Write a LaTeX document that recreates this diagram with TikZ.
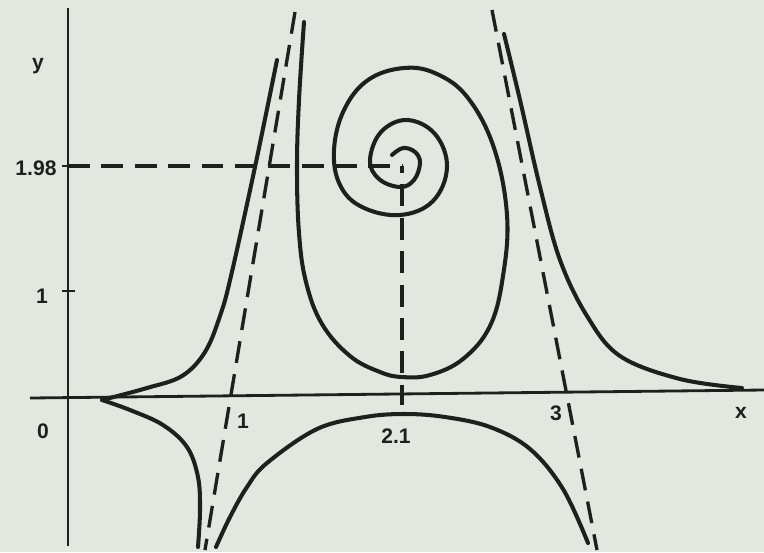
\documentclass[tikz,border=0pt]{standalone}
\usepackage{fontspec}
\setmainfont{Liberation Sans}
\begin{document}
\begin{tikzpicture}[x=0.02cm,y=-0.02cm,
  curve/.style={line width=2.3pt, draw=inkc, line cap=round, line join=round},
  axis/.style={line width=1.6pt, draw=inkc},
  guide/.style={line width=1.9pt, draw=inkc, dash pattern=on 12.5pt off 6.5pt},
  lbl/.style={text=inkc, font=\fontsize{12}{14}\selectfont\bfseries, inner sep=0pt}]
\definecolor{paper}{RGB}{226,231,224}
\definecolor{inkc}{RGB}{30,32,30}
\fill[paper] (0,0) rectangle (764,552);
\useasboundingbox (0,0) rectangle (764,552);

% axes
\coordinate (xa0) at (30,398);
\coordinate (xa1) at (764,390);
\coordinate (ya0) at (68,546);
\coordinate (ya1) at (68,8);
\draw[axis] (xa0) -- (xa1);
\draw[axis] (ya0) -- (ya1);
% ticks
\coordinate (t1a) at (62,291); \coordinate (t1b) at (75,291);
\draw[axis] (t1a) -- (t1b);
\coordinate (t2a) at (62,166); \coordinate (t2b) at (68,166);
\draw[axis] (t2a) -- (t2b);

% guide lines
\coordinate (g0) at (68,166);
\coordinate (gc) at (402,166);
\coordinate (gb) at (402,405);
\draw[guide] (g0) -- (gc);
\draw[guide, dash phase=8.5pt] (gc) -- (gb);

% asymptotes
\coordinate (a1t) at (295,12);
\coordinate (a1b) at (205,550);
\draw[guide] (a1t) -- (a1b);
\coordinate (a2t) at (492,10);
\coordinate (a2b) at (597,550);
\draw[guide] (a2t) -- (a2b);

% upper-left branch
\draw[curve] plot[smooth, tension=0.6] coordinates {(277,60) (255,167) (231,276) (220,316) (205,352) (182,376) (147,388) (102,400)};
% lower-left branch
\draw[curve] plot[smooth, tension=0.6] coordinates {(102,400) (130,410) (163,425) (187,447) (198,477) (200,510) (198,547)};
% lower middle branch
\draw[curve] plot[smooth, tension=0.6] coordinates {(216,547) (230,517) (247,487) (267,463) (317,429) (365,417) (405,414) (445,417) (490,427) (530,449) (563,489) (588,543)};
% right branch
\draw[curve] plot[smooth, tension=0.6] coordinates {(504,34) (520,100) (540,187) (560,260) (587,316) (620,356) (680,379) (742,388)};
% spiral
\draw[curve] plot[smooth, tension=0.65] coordinates {(304,22) (299,100) (297,167) (299,233) (306,282) (322,324) (350,356) (380,372) (402,377) (430,375) (463,359) (490,326) (503,276) (507,215) (494,148) (468,98) (437,74) (404,68) (368,80) (344,110) (334,150) (340,185) (362,207) (400,215) (433,201) (447,167) (435,134) (407,120) (381,132) (370,160) (379,179) (400,187) (414,180) (420,163) (415,152) (403,148) (392,155)};

% labels
\node[lbl] (ly) at (38,66) {y};
\node[lbl] (l198) at (36,168) {1.98};
\node[lbl] (ly1) at (42,296) {1};
\node[lbl] (l0) at (43,431) {0};
\node[lbl] (lx1) at (243,421) {1};
\node[lbl] (l21) at (396,436) {2.1};
\node[lbl] (l3) at (556,413) {3};
\node[lbl] (lx) at (741,413) {x};
\end{tikzpicture}
\end{document}
